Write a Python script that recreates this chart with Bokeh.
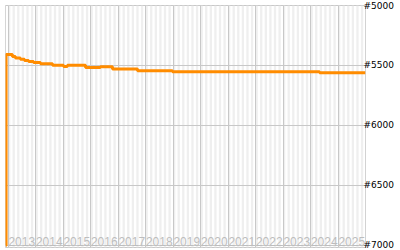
from bokeh.plotting import figure
from bokeh.models import Range1d, FixedTicker, PrintfTickFormatter, Grid, ColumnDataSource
from bokeh.core.properties import value
from bokeh.embed import file_html
from bokeh.resources import INLINE

# data (decimal years, rank)
dates = [2012.92, 2012.93, 2013.16, 2013.27, 2013.45, 2013.60, 2013.75, 2013.93, 2014.18,
         2014.62, 2015.02, 2015.16, 2015.82, 2016.36, 2016.80, 2017.71, 2018.98, 2024.33, 2026.0]
ranks = [7000, 5408, 5425, 5437, 5447, 5458, 5467, 5475, 5486,
         5497, 5508, 5497, 5517, 5511, 5529, 5544, 5552, 5561, 5561]
years = [2013, 2014, 2015, 2016, 2017, 2018, 2019, 2020, 2021, 2022, 2023, 2024, 2025]
year_labels = [str(y) for y in years]
rank_ticks = [5000, 5500, 6000, 6500, 7000]

p = figure(frame_width=360, frame_height=242, output_backend="svg", toolbar_location=None,
           x_range=Range1d(2012.909, 2026.0), y_range=Range1d(7017, 5000),
           x_axis_location=None, y_axis_location="right",
           min_border_left=5, min_border_top=5, min_border_bottom=3, min_border_right=0)
p.outline_line_color = "#c8c8c8"
p.background_fill_color = "white"

p.xgrid.ticker = FixedTicker(ticks=years + [2026])
p.xgrid.grid_line_color = "#c8c8c8"
p.ygrid.ticker = FixedTicker(ticks=rank_ticks)
p.ygrid.grid_line_color = "#c8c8c8"

months = [y + m / 12 for y in range(2012, 2027) for m in range(12)]
band_grid = Grid(dimension=0, ticker=FixedTicker(ticks=months), band_fill_color="#efefef",
                 band_fill_alpha=1.0, grid_line_color=None)
p.center.insert(0, band_grid)

ax = p.yaxis[0]
ax.ticker = FixedTicker(ticks=rank_ticks)
ax.formatter = PrintfTickFormatter(format="#%d")
ax.axis_line_color = None
ax.major_tick_line_color = None
ax.minor_tick_line_color = None
ax.major_tick_out = 0
ax.major_tick_in = 0
ax.major_label_standoff = -2
ax.major_label_text_font = "DejaVu Sans"
ax.major_label_text_font_size = "9px"
ax.major_label_text_color = "black"

src = ColumnDataSource(dict(x=[y + 0.5 for y in years], y=[6971] * len(years), t=year_labels))
p.text(x="x", y="y", text="t", source=src, text_align="center", text_baseline="alphabetic",
       text_font=value("Liberation Sans"), text_font_size="12px", text_color="#bdbdbd")

p.step(dates, ranks, mode="after", line_color="#ff8c00", line_width=3)

open("out.html", "w").write(file_html(p, INLINE))
